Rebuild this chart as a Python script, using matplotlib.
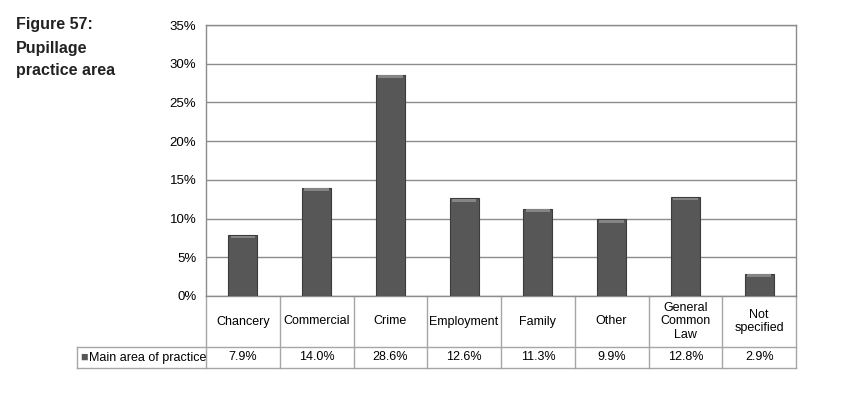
import matplotlib
matplotlib.use("Agg")
import matplotlib.pyplot as plt
import matplotlib.transforms as mtransforms
from matplotlib.ticker import FuncFormatter

categories = ["Chancery", "Commercial", "Crime", "Employment", "Family",
              "Other", "General\nCommon\nLaw", "Not\nspecified"]
values = [7.9, 14.0, 28.6, 12.6, 11.3, 9.9, 12.8, 2.9]
series_name = "Main area of practice"
y_ticks = [0, 5, 10, 15, 20, 25, 30, 35]

plt.rcParams["font.family"] = ["Liberation Sans", "DejaVu Sans"]

W, H = 861, 395
fig = plt.figure(figsize=(W / 100, H / 100), dpi=100)
fig.patch.set_facecolor("white")

left, right, top, bottom = 206, 796, 25, 296
ax = fig.add_axes([left / W, 1 - bottom / H, (right - left) / W, (bottom - top) / H])

x = list(range(len(categories)))
ax.bar(x, values, width=0.39, color="#575757", edgecolor="#3c3c3c", linewidth=0.8, zorder=3)
# light top highlight for the bevel look
ax.bar(x, [0.35] * len(values), bottom=[v - 0.45 for v in values], width=0.33,
       color="#858585", linewidth=0, zorder=4)

ax.set_xlim(-0.5, len(categories) - 0.5)
ax.set_ylim(0, 35)
ax.set_yticks(y_ticks)
ax.yaxis.set_major_formatter(FuncFormatter(lambda v, p: f"{v:.0f}%"))
ax.tick_params(axis="y", length=0, pad=7, labelsize=9.5)
ax.set_xticks([])
ax.grid(axis="y", color="#8c8c8c", linewidth=1, zorder=0)
for s in ax.spines.values():
    s.set_color("#8c8c8c")
    s.set_linewidth(1)

# data table under the plot
trans = mtransforms.blended_transform_factory(ax.transData, ax.transAxes)
ph = bottom - top
y_head = -(347 - bottom) / ph
y_row = -(368 - bottom) / ph
x_leg = -0.5 - (left - 77) / ((right - left) / len(categories))
x_end = len(categories) - 0.5
lc = "#a6a6a6"
kw = dict(color=lc, linewidth=1, transform=trans, clip_on=False)
ax.plot([-0.5, -0.5], [0, y_row], **kw)
for i in range(len(categories)):
    ax.plot([i + 0.5, i + 0.5], [0, y_row], **kw)
ax.plot([x_leg, x_end], [y_head, y_head], **kw)
ax.plot([x_leg, x_end], [y_row, y_row], **kw)
ax.plot([x_leg, x_leg], [y_head, y_row], **kw)

for i, (c, v) in enumerate(zip(categories, values)):
    ax.text(i, y_head / 2, c, transform=trans, ha="center", va="center",
            fontsize=9, linespacing=1.2)
    ax.text(i, (y_head + y_row) / 2, f"{v:.1f}%", transform=trans,
            ha="center", va="center", fontsize=9)

ax.text(x_leg + 0.1, (y_head + y_row) / 2, "\u25a0", transform=trans, ha="center",
        va="center", fontsize=9, color="#575757")
ax.text(x_leg + 0.16, (y_head + y_row) / 2, series_name, transform=trans,
        ha="left", va="center", fontsize=9)

for yy, t in [(25, "Figure 57:"), (48, "Pupillage"), (70, "practice area")]:
    fig.text(16 / W, 1 - yy / H, t, ha="left", va="center", fontsize=11.5,
             fontweight="bold", color="#222222")

fig.savefig("out.png", dpi=100, facecolor="white")
